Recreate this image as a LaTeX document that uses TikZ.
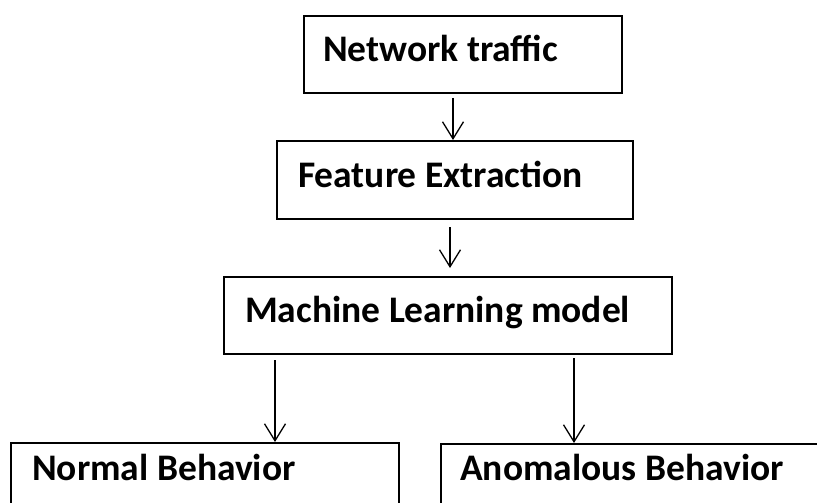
\documentclass[tikz,border=0pt]{standalone}
\usepackage{fontspec}
\setmainfont{Carlito}
\usetikzlibrary{arrows.meta,calc}
\begin{document}
\begin{tikzpicture}[x=1pt,y=-1pt,
  box/.style={draw, line width=2pt, rectangle, anchor=north west, inner sep=0pt},
  lbl/.style={anchor=base west, font=\fontsize{37.5}{44}\selectfont\bfseries, inner sep=0pt},
  arr/.style={line width=1.3pt, -{Straight Barb[length=17pt,width=21pt,line width=1.3pt]}}]
\useasboundingbox (0,0) rectangle (817,503);
\clip (0,0) rectangle (817,503);
\node[box, minimum width=318pt, minimum height=77pt] (b1) at (303,15) {};
\node[box, minimum width=356pt, minimum height=78pt] (b2) at (276,140) {};
\node[box, minimum width=448pt, minimum height=77pt] (b3) at (223,276) {};
\node[box, minimum width=388pt, minimum height=90pt] (b4) at (10,442) {};
\node[box, minimum width=400pt, minimum height=90pt] (b5) at (440,443) {};
\node[lbl] (t1) at (323,62) {Network traffic};
\node[lbl] (t2) at (298,187) {Feature Extraction};
\node[lbl] (t3) at (245,322) {Machine Learning model};
\node[lbl] (t4) at (32,480) {Normal Behavior};
\node[lbl] (t5) at (460,480) {Anomalous Behavior};
\coordinate (s1) at ([xshift=-10pt,yshift=-4pt]b1.south);
\coordinate (s2) at ([xshift=-5pt,yshift=-7pt]b2.south);
\coordinate (s3) at ([xshift=-173pt,yshift=-5pt]b3.south);
\coordinate (s4) at ([xshift=126pt,yshift=-3pt]b3.south);
\draw[arr] (s1) -- (s1 |- b2.north);
\draw[arr] (s2) -- ($(s2 |- b3.north)+(0,-8)$);
\draw[arr] (s3) -- (s3 |- b4.north);
\draw[arr] (s4) -- (s4 |- b5.north);
\end{tikzpicture}
\end{document}
